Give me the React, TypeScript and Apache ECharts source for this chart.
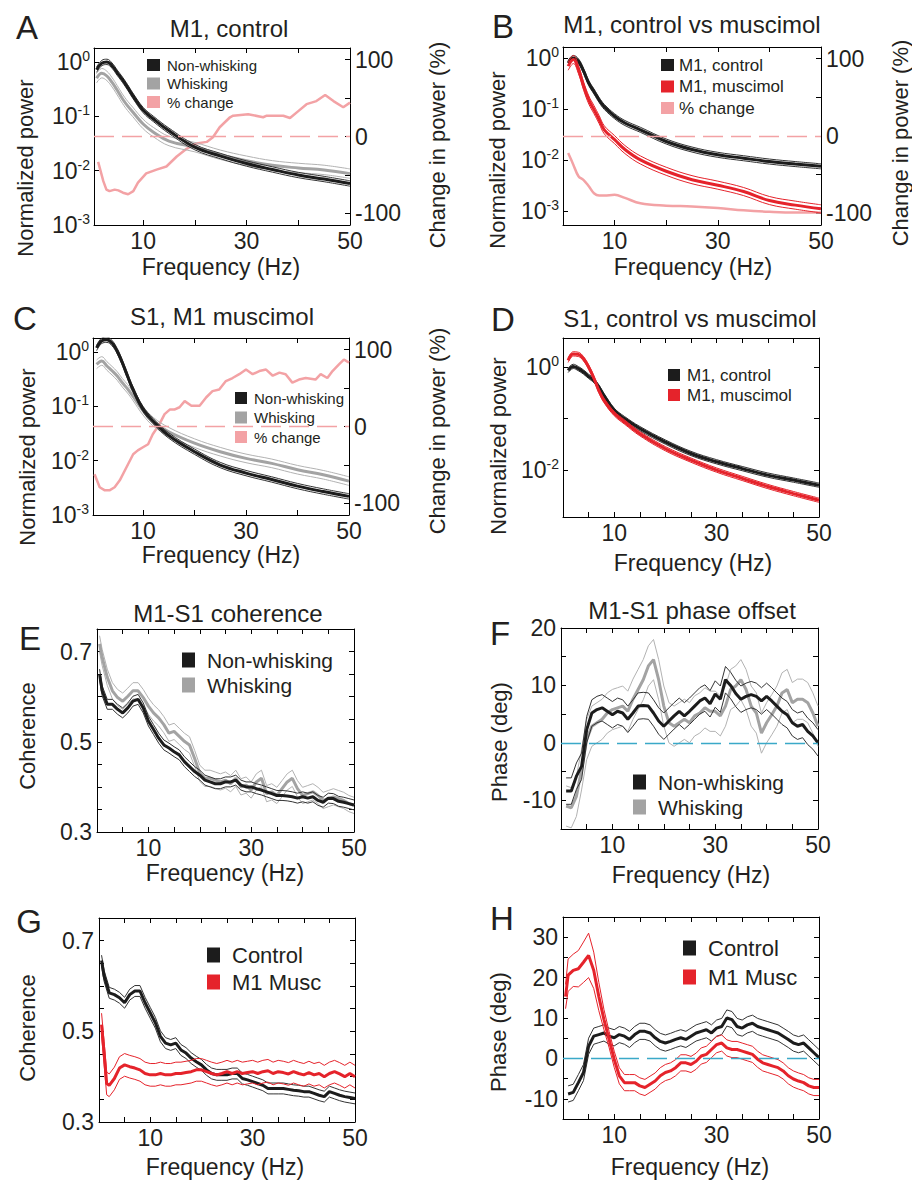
import React, { useEffect, useRef } from "react";
import * as echarts from "echarts";

const FONT = '"Liberation Sans", Arial, Helvetica, sans-serif';
const TXT = "#231f20";
const C_BLACK = "#1c1c1c";
const C_BLACK_SEM = "#333333";
const C_GRAY = "#a3a3a3";
const C_GRAY_SEM = "#b2b2b2";
const C_RED = "#e5232b";
const C_PINK = "#f3a2a5";
const C_CYAN = "#3aa9c8";

// ---------- tick / label values ----------
const X_LABELS = [10, 30, 50];
const X_TICKS_10 = [10, 20, 30, 40, 50];
const X_TICKS_5 = [5, 10, 15, 20, 25, 30, 35, 40, 45, 50];
const PCT_LABELS = [-100, 0, 100];
const PCT_TICKS = [-100, -50, 0, 50, 100];
const COH_LABELS = [0.3, 0.5, 0.7];
const COH_TICKS = [0.35, 0.4, 0.45, 0.5, 0.55, 0.6, 0.65, 0.7];
const F_LABELS = [-10, 0, 10, 20];
const F_TICKS = [-10, -5, 0, 5, 10, 15];
const H_LABELS = [-10, 0, 10, 20, 30];
const H_TICKS = [-10, -5, 0, 5, 10, 15, 20, 25, 30];

// ---------- power spectra (A-D) ----------
const FREQ_POW = [1, 2, 3, 4, 5, 6, 7, 8, 10, 12, 15, 20, 25, 30, 35, 40, 45, 50];

const A_NONWHISK = [0.72, 0.95, 1.0, 0.85, 0.63, 0.47, 0.34, 0.24, 0.13, 0.089, 0.054, 0.027, 0.0185, 0.0135, 0.0105, 0.0083, 0.007, 0.0058];
const A_WHISK = [0.5, 0.62, 0.55, 0.42, 0.3, 0.21, 0.155, 0.12, 0.072, 0.051, 0.035, 0.027, 0.0195, 0.0152, 0.0125, 0.0112, 0.0103, 0.0088];
const A_PCT_FREQ = [1.3, 2.3, 2.9, 3.5, 4.5, 5.2, 6.1, 7.1, 8.1, 9.0, 10.6, 12.6, 14.5, 16.5, 18.4, 20.3, 22.3, 23.5, 24.8, 26.8, 27.4, 30.3, 33.2, 33.9, 37.1, 38.4, 40, 41.6, 43.5, 45.2, 46.8, 48.7, 50];
const A_PCT = [-33, -58, -69, -71, -69, -70, -73, -75, -71, -60, -48, -43, -39, -26, -16, -9, -7, -1, 12, 25, 27, 29, 25, 27, 27, 24, 33, 42, 46, 54, 46, 38, 44];

const B_CONTROL = [0.8, 1.0, 0.86, 0.55, 0.32, 0.22, 0.15, 0.11, 0.072, 0.053, 0.039, 0.023, 0.016, 0.0126, 0.0108, 0.0093, 0.0083, 0.0075];
const B_MUSC = [0.69, 0.93, 0.59, 0.28, 0.15, 0.097, 0.062, 0.039, 0.025, 0.016, 0.01, 0.006, 0.0041, 0.0032, 0.0024, 0.0016, 0.0013, 0.0011];
const B_PCT = [-22, -37, -52, -57, -65, -74, -77, -77, -76, -80, -87, -90, -91, -93, -96, -98, -99, -99];

const C_NONWHISK = [1.18, 1.6, 1.67, 1.45, 1.03, 0.63, 0.36, 0.21, 0.089, 0.053, 0.029, 0.0146, 0.0083, 0.0059, 0.0045, 0.0034, 0.0027, 0.0022];
const C_WHISK = [0.59, 0.68, 0.55, 0.45, 0.36, 0.27, 0.21, 0.156, 0.083, 0.052, 0.034, 0.021, 0.0146, 0.011, 0.0089, 0.0068, 0.0055, 0.0042];
const C_PCT_FREQ = [0.6, 1.6, 2.6, 3.5, 4.5, 5.5, 7.1, 8.1, 9.0, 10, 11, 11.9, 13.2, 14.2, 15.2, 16.1, 17.1, 18.1, 19.4, 21, 22.3, 23.5, 24.8, 26.1, 27.4, 28.7, 30, 31.3, 32.6, 33.9, 35.2, 36.5, 37.7, 39, 40.3, 41.6, 43.5, 44.5, 45.8, 46.8, 48.1, 49, 50];
const C_PCT = [-62, -79, -83, -83, -79, -70, -49, -36, -31, -27, -23, -10, 3, 16, 22, 22, 25, 33, 27, 27, 38, 46, 48, 59, 63, 68, 74, 68, 72, 74, 66, 70, 68, 57, 61, 63, 61, 68, 63, 72, 81, 87, 83];

const D_CONTROL = [0.86, 1.03, 0.93, 0.8, 0.66, 0.55, 0.41, 0.28, 0.145, 0.1, 0.064, 0.035, 0.021, 0.0145, 0.0107, 0.008, 0.0064, 0.0051];
const D_MUSC = [1.35, 1.8, 1.76, 1.45, 1.0, 0.62, 0.35, 0.226, 0.125, 0.086, 0.051, 0.026, 0.0156, 0.01, 0.0069, 0.0048, 0.0035, 0.0026];

// ---------- coherence (E, G) ----------
const COH_FREQ = [0.5, 1, 2, 3, 4, 5, 6, 7, 8, 9, 10, 11, 12, 13, 14, 15, 16, 17, 18, 19, 20, 21, 22, 23, 24, 25, 26, 27, 28, 29, 30, 31, 32, 33, 34, 35, 36, 37, 38, 39, 40, 41, 42, 43, 44, 45, 46, 47, 48, 49, 50];
const E_NONWHISK = [0.65, 0.613, 0.583, 0.583, 0.572, 0.564, 0.575, 0.59, 0.594, 0.575, 0.546, 0.527, 0.508, 0.493, 0.486, 0.478, 0.471, 0.456, 0.445, 0.434, 0.426, 0.415, 0.411, 0.407, 0.407, 0.411, 0.411, 0.415, 0.404, 0.4, 0.4, 0.396, 0.393, 0.389, 0.385, 0.381, 0.381, 0.38, 0.378, 0.375, 0.378, 0.375, 0.378, 0.37, 0.366, 0.375, 0.374, 0.368, 0.366, 0.363, 0.36];
const E_WHISK = [0.717, 0.687, 0.643, 0.613, 0.598, 0.59, 0.601, 0.613, 0.613, 0.598, 0.579, 0.564, 0.553, 0.538, 0.519, 0.523, 0.512, 0.501, 0.493, 0.463, 0.43, 0.419, 0.419, 0.415, 0.411, 0.415, 0.407, 0.419, 0.4, 0.404, 0.393, 0.411, 0.419, 0.385, 0.389, 0.381, 0.396, 0.411, 0.419, 0.396, 0.381, 0.385, 0.389, 0.381, 0.37, 0.374, 0.378, 0.374, 0.37, 0.363, 0.359];
const G_CONTROL = [0.656, 0.622, 0.585, 0.581, 0.574, 0.563, 0.581, 0.589, 0.589, 0.563, 0.541, 0.519, 0.489, 0.474, 0.47, 0.474, 0.459, 0.452, 0.441, 0.433, 0.426, 0.415, 0.407, 0.404, 0.404, 0.404, 0.407, 0.407, 0.396, 0.393, 0.389, 0.385, 0.381, 0.374, 0.374, 0.374, 0.374, 0.372, 0.37, 0.369, 0.367, 0.367, 0.363, 0.359, 0.356, 0.367, 0.363, 0.359, 0.356, 0.354, 0.352];
const G_MUSC_FREQ = [0.5, 1, 1.5, 2, 3, 4, 5, 6, 7, 8, 9, 10, 11, 12, 13, 14, 15, 16, 17, 18, 19, 20, 21, 22, 23, 24, 25, 26, 27, 28, 29, 30, 31, 32, 33, 34, 35, 36, 37, 38, 39, 40, 41, 42, 43, 44, 45, 46, 47, 48, 49, 50];
const G_MUSC = [0.515, 0.452, 0.385, 0.381, 0.396, 0.419, 0.426, 0.422, 0.419, 0.415, 0.407, 0.404, 0.404, 0.407, 0.404, 0.404, 0.407, 0.407, 0.409, 0.411, 0.415, 0.415, 0.411, 0.407, 0.404, 0.407, 0.411, 0.407, 0.411, 0.407, 0.409, 0.411, 0.407, 0.411, 0.413, 0.407, 0.411, 0.409, 0.406, 0.411, 0.407, 0.404, 0.409, 0.404, 0.407, 0.4, 0.407, 0.411, 0.406, 0.4, 0.407, 0.4];

// ---------- phase (F, H) ----------
const PH_FREQ = [1, 2, 3, 4, 5, 6, 7, 8, 9, 10, 11, 12, 13, 14, 15, 16, 17, 18, 19, 20, 21, 22, 23, 24, 25, 26, 27, 28, 29, 30, 31, 32, 33, 34, 35, 36, 37, 38, 39, 40, 41, 42, 43, 44, 45, 46, 47, 48, 49, 50];
const F_NONWHISK = [-8.4, -8.4, -5.8, -4.1, 2.3, 5.2, 5.8, 6.1, 5.5, 4.9, 5.5, 5.2, 4.1, 5.2, 6.4, 6.5, 6.4, 5.2, 3.8, 2.9, 3.8, 4.7, 5.5, 4.7, 5.5, 6.4, 7.3, 7.8, 6.8, 8.5, 7.6, 11.0, 10.0, 8.6, 7.6, 8.1, 8.4, 8.1, 7.3, 8.1, 7.3, 6.4, 5.5, 4.9, 3.5, 2.9, 3.2, 2.0, 1.2, 0];
const F_WHISK = [-11, -11.3, -9.3, -4.7, 0.6, 2.9, 3.5, 4.1, 5.2, 5.8, 6.1, 6.4, 5.5, 7.6, 9.3, 11, 13.4, 14.5, 11, 6.4, 3.5, 2.9, 3.5, 4.1, 3.5, 4.7, 5.2, 6.1, 5.5, 5.5, 4.7, 6.4, 9.3, 9.9, 11, 9.3, 6.4, 5.2, 1.7, 3.5, 4.9, 6.4, 8.7, 9.3, 7.0, 7.6, 7.6, 7.0, 5.2, 2.9];
const H_CONTROL = [-8.8, -8.4, -6.0, -3.5, 3.0, 5.5, 5.9, 6.3, 5.5, 5.1, 5.9, 5.5, 4.7, 5.9, 6.7, 6.7, 6.3, 5.1, 4.2, 3.8, 4.2, 4.7, 5.1, 4.7, 5.5, 6.3, 6.7, 7.1, 6.3, 7.5, 7.9, 10, 9.6, 7.9, 7.5, 8.3, 8.7, 7.9, 7.5, 7.1, 6.7, 6.3, 5.5, 4.7, 3.8, 3.4, 3.8, 2.6, 1.4, 0.2];
const H_MUSC = [15.3, 20.6, 21.8, 22.2, 23.8, 25.5, 21.8, 15.3, 9.6, 4.7, -0.2, -4.3, -6.0, -6.0, -6.0, -6.8, -7.2, -6.4, -5.6, -4.3, -3.5, -3.1, -2.3, -1.1, -1.1, -1.5, -0.7, 0.6, 1.0, 2.2, 3.4, 3.8, 2.6, 2.2, 2.2, 1.8, 1.4, 1.0, -0.2, -1.1, -1.5, -1.9, -2.3, -3.1, -4.3, -5.1, -5.6, -6.0, -6.8, -7.2, -7.2];
const H_MUSC_SEM = [3, 4, 4, 4.5, 5, 5.5, 4.5, 3.5, 2.5, 2, 2, 2, 2, 2, 2, 2, 2, 2, 2, 2, 2, 2, 2, 2, 2, 2, 2, 2, 2, 2, 2, 2, 2, 2, 2, 2, 2, 2, 2, 2, 2, 2, 2, 2, 2, 2, 2, 2, 2, 2, 2];

// SEM widths (fraction for log panels, absolute for linear)
const SEM_A_NW = 0.12, SEM_A_W = 0.22;
const SEM_B_CTL = 0.12, SEM_B_MUS = 0.2;
const SEM_C_NW = 0.12, SEM_C_W = 0.2;
const SEM_D_CTL = 0.1, SEM_D_MUS = 0.1;
const SEM_E_NW = 0.011, SEM_E_W = 0.018;
const SEM_F_NW = 2.3, SEM_F_W = 3.5;
const SEM_G_CTL = 0.012, SEM_G_MUS = 0.025;
const SEM_H_CTL = 2;

function buildOption() {
  const grid: any[] = [];
  const xAxis: any[] = [];
  const yAxis: any[] = [];
  const series: any[] = [];
  const legend: any[] = [];
  const graphic: any[] = [];

  const tick = { show: true, inside: true, length: 5, lineStyle: { color: "#000", width: 1 } };
  const axLine = { show: true, onZero: false, lineStyle: { color: "#000", width: 1 } };
  const lbl = { fontSize: 23, fontFamily: FONT, color: TXT };
  const logRich = {
    b: { fontSize: 23, fontFamily: FONT, color: TXT, lineHeight: 26 },
    e: { fontSize: 14, fontFamily: FONT, color: TXT, lineHeight: 14, verticalAlign: "top" },
  };
  const logFmt = (shown: number[]) => (v: number) => {
    const l = Math.log10(v);
    const e = Math.round(l);
    if (Math.abs(l - e) > 1e-6 || shown.indexOf(e) < 0) return "";
    return `{b|10}{e|${e}}`;
  };

  const addGrid = (l: number, t: number, w: number, h: number) => {
    grid.push({ left: l, top: t, width: w, height: h, outerBoundsMode: "none" });
    return grid.length - 1;
  };
  const addX = (g: number, min: number, ticks: number[]) => {
    const c = { type: "value", gridIndex: g, min, max: 50, splitLine: { show: false }, axisLine: axLine };
    xAxis.push({ ...c, position: "bottom", axisTick: { ...tick, customValues: ticks }, axisLabel: { ...lbl, margin: 4, customValues: X_LABELS } });
    xAxis.push({ ...c, position: "top", axisTick: { ...tick, customValues: ticks }, axisLabel: { show: false } });
  };
  const addLogY = (g: number, min: number, max: number, shown: number[], mirror: boolean) => {
    const c = { type: "log", logBase: 10, gridIndex: g, min, max, splitLine: { show: false }, axisLine: axLine, axisTick: tick };
    yAxis.push({ ...c, position: "left", axisLabel: { formatter: logFmt(shown), rich: logRich, margin: 4 } });
    if (mirror) yAxis.push({ ...c, position: "right", axisLabel: { show: false } });
  };
  const addPctY = (g: number) => {
    yAxis.push({
      type: "value", gridIndex: g, position: "right", min: -115, max: 115, splitLine: { show: false }, axisLine: axLine,
      axisTick: { ...tick, customValues: PCT_TICKS }, axisLabel: { ...lbl, margin: 5, customValues: PCT_LABELS },
    });
  };
  const addLinY = (g: number, min: number, max: number, labels: number[], ticks: number[], dec: number) => {
    const c = { type: "value", gridIndex: g, min, max, splitLine: { show: false }, axisLine: axLine };
    yAxis.push({
      ...c, position: "left", axisTick: { ...tick, customValues: ticks },
      axisLabel: { ...lbl, margin: 5, customValues: labels, formatter: (v: number) => (dec ? v.toFixed(dec) : String(v)) },
    });
    yAxis.push({ ...c, position: "right", axisTick: { ...tick, customValues: ticks }, axisLabel: { show: false } });
  };

  const addLine = (p: number, xs: number[], ys: number[], color: string, width: number, name: string | undefined, right: boolean, smooth: number | boolean, extra: any = {}) => {
    series.push({
      type: "line", name, xAxisIndex: 2 * p, yAxisIndex: 2 * p + (right ? 1 : 0),
      data: xs.map((x, i) => [x, ys[i]]), symbol: "none", showSymbol: false, smooth,
      lineStyle: { color, width }, itemStyle: { color }, silent: true, ...extra,
    });
  };
  const band = (p: number, xs: number[], ys: number[], sem: number | number[], color: string, semColor: string, name: string, log: boolean, smooth: number | boolean, extra: any = {}) => {
    const s = (k: number) => (Array.isArray(sem) ? sem[k] : sem);
    const up = ys.map((v, k) => (log ? v * (1 + s(k)) : v + s(k)));
    const lo = ys.map((v, k) => (log ? v / (1 + s(k)) : v - s(k)));
    addLine(p, xs, lo, semColor, 1, undefined, false, smooth);
    addLine(p, xs, up, semColor, 1, undefined, false, smooth);
    addLine(p, xs, ys, color, 3, name, false, smooth, extra);
  };
  const zeroLine = (color: string) => ({
    markLine: { silent: true, symbol: ["none", "none"], label: { show: false }, lineStyle: { color, type: [20, 8], width: 1.3 }, data: [{ yAxis: 0 }] },
  });
  const addLegend = (names: string[], left: number, top: number, fontSize: number, lineHeight: number, gap: number, iw: number, ih: number, pad: number) => {
    legend.push({
      data: names, left, top, orient: "vertical", icon: "rect", itemWidth: iw, itemHeight: ih, itemGap: gap, padding: 0, selectedMode: false,
      textStyle: { fontSize, fontFamily: FONT, color: TXT, lineHeight, padding: [0, 0, 0, pad] },
    });
  };
  const text = (t: string, x: number, y: number, size: number, rot = 0) =>
    graphic.push({ type: "text", x, y, rotation: rot, silent: true, style: { text: t, fontSize: size, fontFamily: FONT, fill: TXT, align: "center", verticalAlign: "middle" } });

  // ---- A ----
  let g = addGrid(94, 48, 256, 177);
  addX(g, 0.5, X_TICKS_10);
  addLogY(g, 0.001, 1.8, [0, -1, -2, -3], false);
  addPctY(g);
  addLine(0, A_PCT_FREQ, A_PCT, C_PINK, 2.5, "% change", true, false, zeroLine(C_PINK));
  band(0, FREQ_POW, A_WHISK, SEM_A_W, C_GRAY, C_GRAY_SEM, "Whisking", true, 0.4);
  band(0, FREQ_POW, A_NONWHISK, SEM_A_NW, C_BLACK, C_BLACK_SEM, "Non-whisking", true, 0.4);
  addLegend(["Non-whisking", "Whisking", "% change"], 147, 56.5, 15, 17, 1.5, 13, 12, 2);

  // ---- B ----
  g = addGrid(563, 47, 258, 178);
  addX(g, 0, X_TICKS_10);
  addLogY(g, 0.00053, 1.64, [0, -1, -2, -3], false);
  addPctY(g);
  addLine(1, FREQ_POW, B_PCT, C_PINK, 2.5, "% change", true, 0.4, zeroLine(C_PINK));
  band(1, FREQ_POW, B_CONTROL, SEM_B_CTL, C_BLACK, C_BLACK_SEM, "M1, control", true, 0.4);
  band(1, FREQ_POW, B_MUSC, SEM_B_MUS, C_RED, C_RED, "M1, muscimol", true, 0.4);
  addLegend(["M1, control", "M1, muscimol", "% change"], 661, 55.5, 17, 19, 2.5, 13, 12, 0);

  // ---- C ----
  g = addGrid(93, 338, 256, 177);
  addX(g, 0.3, X_TICKS_10);
  addLogY(g, 0.001, 1.8, [0, -1, -2, -3], false);
  addPctY(g);
  addLine(2, C_PCT_FREQ, C_PCT, C_PINK, 2.5, "% change", true, false, zeroLine(C_PINK));
  band(2, FREQ_POW, C_WHISK, SEM_C_W, C_GRAY, C_GRAY_SEM, "Whisking", true, 0.4);
  band(2, FREQ_POW, C_NONWHISK, SEM_C_NW, C_BLACK, C_BLACK_SEM, "Non-whisking", true, 0.4);
  addLegend(["Non-whisking", "Whisking", "% change"], 235, 389.5, 15, 17, 2.5, 12, 12, 2);

  // ---- D ----
  g = addGrid(563, 338, 256, 179);
  addX(g, 0, X_TICKS_5);
  addLogY(g, 0.00123, 3.66, [0, -2], true);
  band(3, FREQ_POW, D_CONTROL, SEM_D_CTL, C_BLACK, C_BLACK_SEM, "M1, control", true, 0.4);
  band(3, FREQ_POW, D_MUSC, SEM_D_MUS, C_RED, C_RED, "M1, muscimol", true, 0.4);
  addLegend(["M1, control", "M1, muscimol"], 668, 365.5, 17, 19, 1, 12, 12, 2);

  // ---- E ----
  g = addGrid(97, 629, 257, 203);
  addX(g, 0, X_TICKS_5);
  addLinY(g, 0.3, 0.75, COH_LABELS, COH_TICKS, 1);
  band(4, COH_FREQ, E_WHISK, SEM_E_W, C_GRAY, C_GRAY_SEM, "Whisking", false, false);
  band(4, COH_FREQ, E_NONWHISK, SEM_E_NW, C_BLACK, C_BLACK_SEM, "Non-whisking", false, false);
  addLegend(["Non-whisking", "Whisking"], 182, 649, 21, 22, 3, 13, 15, 7);

  // ---- F ----
  g = addGrid(561, 628, 257, 201);
  addX(g, 0, X_TICKS_5);
  addLinY(g, -15, 20, F_LABELS, F_TICKS, 0);
  band(5, PH_FREQ, F_WHISK, SEM_F_W, C_GRAY, C_GRAY_SEM, "Whisking", false, false, zeroLine(C_CYAN));
  band(5, PH_FREQ, F_NONWHISK, SEM_F_NW, C_BLACK, C_BLACK_SEM, "Non-whisking", false, false);
  addLegend(["Non-whisking", "Whisking"], 633, 771, 21, 22, 3, 13, 15, 7);

  // ---- G ----
  g = addGrid(99, 918, 256, 204);
  addX(g, 0, X_TICKS_5);
  addLinY(g, 0.3, 0.75, COH_LABELS, COH_TICKS, 1);
  band(6, COH_FREQ, G_CONTROL, SEM_G_CTL, C_BLACK, C_BLACK_SEM, "Control", false, false);
  band(6, G_MUSC_FREQ, G_MUSC, SEM_G_MUS, C_RED, C_RED, "M1 Musc", false, false);
  addLegend(["Control", "M1 Musc"], 207, 943.5, 22, 23, 4, 13, 15, 7);

  // ---- H ----
  g = addGrid(563, 917, 256, 202);
  addX(g, 0, X_TICKS_5);
  addLinY(g, -15, 35, H_LABELS, H_TICKS, 0);
  band(7, PH_FREQ, H_CONTROL, SEM_H_CTL, C_BLACK, C_BLACK_SEM, "Control", false, false, zeroLine(C_CYAN));
  band(7, COH_FREQ, H_MUSC, H_MUSC_SEM, C_RED, C_RED, "M1 Musc", false, false);
  addLegend(["Control", "M1 Musc"], 683, 936.5, 22, 23, 6, 13, 15, 7);

  // ---- texts: titles, axis names, panel letters ----
  text("M1, control", 229, 28, 24);
  text("M1, control vs muscimol", 692, 24, 24);
  text("S1, M1 muscimol", 222, 316, 24);
  text("S1, control vs muscimol", 690, 318, 24);
  text("M1-S1 coherence", 228, 613, 24);
  text("M1-S1 phase offset", 692, 610, 24);

  const R = Math.PI / 2;
  text("Normalized power", 25, 168, 22, R);
  text("Normalized power", 497, 160, 22, R);
  text("Normalized power", 27, 457, 22, R);
  text("Normalized power", 498, 446, 22, R);
  text("Coherence", 27, 736, 22, R);
  text("Phase (deg)", 499, 742, 22, R);
  text("Coherence", 27, 1028, 22, R);
  text("Phase (deg)", 498, 1032, 22, R);
  text("Change in power (%)", 437, 145, 22, R);
  text("Change in power (%)", 900, 143, 22, R);
  text("Change in power (%)", 437, 431, 22, R);

  text("Frequency (Hz)", 221, 267, 23);
  text("Frequency (Hz)", 693, 267, 23);
  text("Frequency (Hz)", 221, 555, 23);
  text("Frequency (Hz)", 693, 563, 23);
  text("Frequency (Hz)", 225, 873, 23);
  text("Frequency (Hz)", 691, 875, 23);
  text("Frequency (Hz)", 225, 1167, 23);
  text("Frequency (Hz)", 690, 1167, 23);

  text("A", 27, 27, 33);
  text("B", 503, 26, 33);
  text("C", 25, 318, 33);
  text("D", 503, 319, 33);
  text("E", 30, 638, 33);
  text("F", 500, 633, 33);
  text("G", 29, 921, 33);
  text("H", 502, 918, 33);

  return { animation: false, backgroundColor: "#fff", grid, xAxis, yAxis, series, legend, graphic };
}

export default function App() {
  const ref = useRef<HTMLDivElement>(null);
  useEffect(() => {
    const chart = echarts.init(ref.current as HTMLDivElement, null, { renderer: "svg" });
    chart.setOption(buildOption() as any);
    return () => chart.dispose();
  }, []);
  return <div ref={ref} style={{ position: "absolute", left: 0, top: 0, width: 912, height: 1182, background: "#fff" }} />;
}
